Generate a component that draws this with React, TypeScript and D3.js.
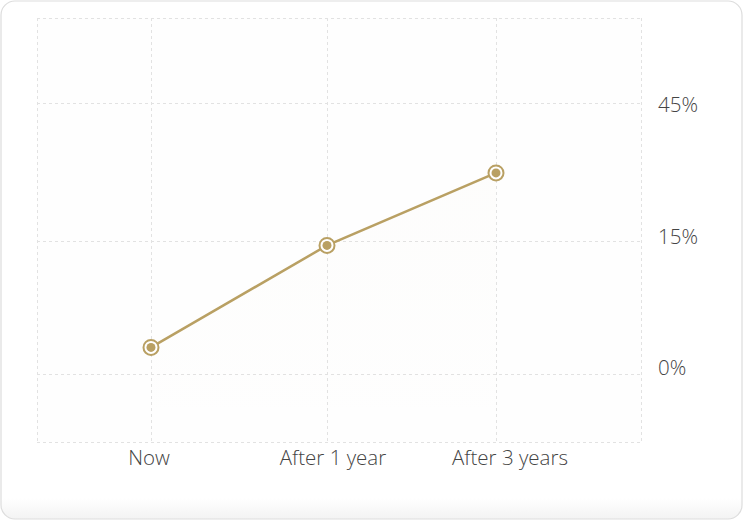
import React, { useEffect, useRef } from 'react';
import * as d3 from 'd3';

// categories along the bottom and the growth reading for each
const periods: string[] = ['Now', 'After 1 year', 'After 3 years'];
const growth: number[] = [3, 14.5, 29.8];

// tick values shown on the right-hand axis
const yTicks: number[] = [45, 15, 0];

export default function App() {
  const ref = useRef<SVGSVGElement>(null);

  useEffect(() => {
    const width = 743;
    const height = 521;
    const gold = '#b9a063';
    const grid = '#e2e2e2';
    const font = '"Open Sans", sans-serif';

    const svg = d3.select(ref.current);
    svg.selectAll('*').remove();

    const defs = svg.append('defs');
    const shade = defs
      .append('linearGradient')
      .attr('id', 'card-shade')
      .attr('x1', 0)
      .attr('y1', 0)
      .attr('x2', 0)
      .attr('y2', 1);
    shade.append('stop').attr('offset', '0%').attr('stop-color', '#ffffff');
    shade.append('stop').attr('offset', '96%').attr('stop-color', '#ffffff');
    shade.append('stop').attr('offset', '100%').attr('stop-color', '#f3f3f3');

    const areaFill = defs
      .append('linearGradient')
      .attr('id', 'area-fill')
      .attr('x1', 0)
      .attr('y1', 0)
      .attr('x2', 0)
      .attr('y2', 1);
    areaFill.append('stop').attr('offset', '0%').attr('stop-color', gold).attr('stop-opacity', 0.015);
    areaFill.append('stop').attr('offset', '100%').attr('stop-color', gold).attr('stop-opacity', 0);

    // card
    svg
      .append('rect')
      .attr('x', 1)
      .attr('y', 1)
      .attr('width', width - 2)
      .attr('height', height - 3)
      .attr('rx', 14)
      .attr('ry', 14)
      .attr('fill', 'url(#card-shade)')
      .attr('stroke', '#dddddd')
      .attr('stroke-width', 1.2);

    // piecewise scales: outer edges of the plot frame sit beyond the first/last ticks
    const x = d3
      .scaleLinear()
      .domain([-0.65, 0, 1, 2, 2.85])
      .range([37, 151, 327, 496, 641]);

    const y = d3
      .scaleLinear()
      .domain([60, 45, 15, 0, -7.7])
      .range([18, 103, 241, 374, 442]);

    // labels on the right are spread evenly rather than exactly on the grid
    const yLabel = d3.scalePoint<number>().domain(yTicks).range([105, 368]);

    const xMin = x(-0.65);
    const xMax = x(2.85);
    const yTop = y(60);
    const yBot = y(-7.7);

    svg
      .append('rect')
      .attr('x', xMin)
      .attr('y', yTop)
      .attr('width', xMax - xMin)
      .attr('height', yBot - yTop)
      .attr('fill', '#fefefe');

    const gridG = svg
      .append('g')
      .attr('stroke', grid)
      .attr('stroke-dasharray', '3,3')
      .attr('stroke-width', 1);

    [-0.65, 0, 1, 2, 2.85].forEach((v) => {
      gridG
        .append('line')
        .attr('x1', x(v) + 0.5)
        .attr('x2', x(v) + 0.5)
        .attr('y1', yTop)
        .attr('y2', yBot);
    });
    [60, ...yTicks, -7.7].forEach((v) => {
      gridG
        .append('line')
        .attr('x1', xMin)
        .attr('x2', xMax)
        .attr('y1', y(v) + 0.5)
        .attr('y2', y(v) + 0.5);
    });

    // right axis labels
    svg
      .append('g')
      .selectAll('text')
      .data(yTicks)
      .enter()
      .append('text')
      .attr('x', 658)
      .attr('y', (d) => yLabel(d) as number)
      .attr('dy', '0.35em')
      .attr('font-family', font)
      .attr('font-weight', 300)
      .attr('font-size', 20.5)
      .attr('fill', '#444')
      .text((d) => `${d}%`);

    // bottom labels
    svg
      .append('g')
      .selectAll('text')
      .data(periods)
      .enter()
      .append('text')
      .attr('x', (d, i) => x(i) + i * 8 - 2)
      .attr('y', 465)
      .attr('text-anchor', 'middle')
      .attr('font-family', font)
      .attr('font-weight', 300)
      .attr('font-size', 20.5)
      .attr('fill', '#444')
      .text((d) => d);

    const points = growth.map((v, i) => ({ i, v }));

    const area = d3
      .area<{ i: number; v: number }>()
      .x((d) => x(d.i))
      .y0(yBot)
      .y1((d) => y(d.v));

    svg.append('path').datum(points).attr('d', area).attr('fill', 'url(#area-fill)');

    const line = d3
      .line<{ i: number; v: number }>()
      .x((d) => x(d.i))
      .y((d) => y(d.v));

    svg
      .append('path')
      .datum(points)
      .attr('d', line)
      .attr('fill', 'none')
      .attr('stroke', gold)
      .attr('stroke-width', 2.5);

    const marks = svg.append('g').selectAll('g').data(points).enter().append('g');

    marks
      .append('circle')
      .attr('cx', (d) => x(d.i))
      .attr('cy', (d) => y(d.v))
      .attr('r', 7.5)
      .attr('fill', '#fff')
      .attr('stroke', gold)
      .attr('stroke-width', 2);

    marks
      .append('circle')
      .attr('cx', (d) => x(d.i))
      .attr('cy', (d) => y(d.v))
      .attr('r', 4.5)
      .attr('fill', gold);
  }, []);

  return (
    <svg
      ref={ref}
      width={743}
      height={521}
      style={{ position: 'absolute', left: 0, top: 0, display: 'block' }}
    />
  );
}
